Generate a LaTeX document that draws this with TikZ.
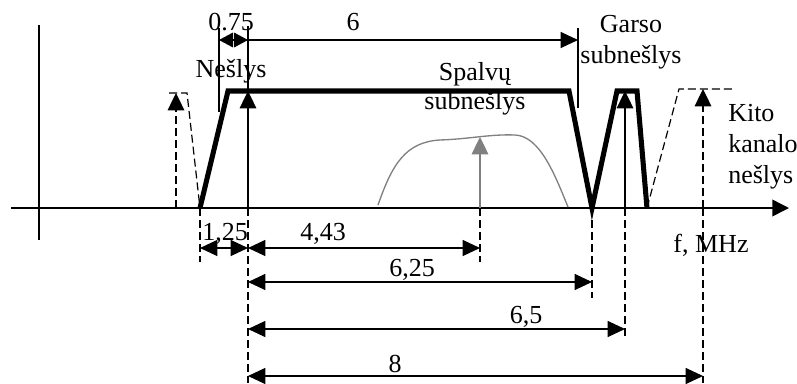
\documentclass[tikz,border=0pt]{standalone}
\usepackage{fontspec}
\setmainfont{Liberation Serif}
\usetikzlibrary{arrows.meta}

\begin{document}
\begin{tikzpicture}[x=0.75pt,y=0.75pt,yscale=-1,xscale=1,
  lbl/.style={font=\fontsize{19.5}{23}\selectfont, inner sep=0pt, anchor=base},
  axisline/.style={line width=1.1pt},
  dimline/.style={line width=0.9pt, {Triangle[length=13pt,width=12pt]}-{Triangle[length=13pt,width=12pt]}},
  dimshort/.style={line width=0.9pt, {Triangle[length=10.5pt,width=11pt]}-{Triangle[length=10.5pt,width=11pt]}},
  dimright/.style={line width=0.9pt, -{Triangle[length=13pt,width=12pt]}},
  extline/.style={line width=0.9pt, dash pattern={on 6pt off 3pt}},
  band/.style={line width=3.8pt, line join=miter},
  nextband/.style={line width=0.9pt, dash pattern={on 6pt off 3pt}},
  carrier/.style={line width=0.9pt, -{Triangle[length=13pt,width=12.5pt]}},
  chroma/.style={line width=1pt, color=gray}
]
\useasboundingbox (0,0) rectangle (797,383);

% frequencies on the axis
\coordinate (fa) at (200,208);
\coordinate (fv) at (248,208);
\coordinate (fc) at (480,208);
\coordinate (fe) at (592,208);
\coordinate (fs) at (625,208);
\coordinate (fk) at (703,208);

%Axes
\draw [axisline, -{Triangle[length=12.5pt,width=12.5pt]}] (11,208) -- (789,208) ;
\draw [axisline] (39,25) -- (39,240) ;

%Adjacent channel (left)
\draw [nextband] (169,93) -- (187,93) -- (fa) ;
\draw [nextband, -{Triangle[length=13pt,width=12.5pt]}] (176,208) -- (176,93) ;

%Channel band
\draw [band] (fa) -- (228,91) -- (569,91) -- (fe) -- (617,91) -- (637,91) -- (647,208) ;

%Carriers
\draw [carrier] (fv) -- (248,91) ;
\draw [carrier] (fs) -- (625,91) ;
\draw [carrier, color=gray] (fc) -- (480,137) ;

%Chroma spectrum
\draw [chroma] (378,205) .. controls (392,165) and (405,142) .. (440,140) .. controls (470,139) and (490,134) .. (515,135) .. controls (540,136) and (555,175) .. (568,207) ;

%Adjacent channel (right)
\draw [nextband] (647,208) -- (679,89) -- (732,89) ;
\draw [nextband, -{Triangle[length=13pt,width=12.5pt]}] (fk) -- (703,89) ;

%Upper dimensions
\draw [line width=0.9pt] (219,28) -- (219,112) ;
\draw [line width=0.9pt] (248,91) -- (248,26) ;
\draw [line width=0.9pt] (578,28) -- (578,108) ;
\draw [dimshort] (219,40) -- (248,40) ;
\draw [dimright] (248,40) -- (578,40) ;

%Lower extension lines
\draw [extline] (fa) -- (200,262) ;
\draw [extline] (fv) -- (248,383) ;
\draw [extline] (fc) -- (480,262) ;
\draw [extline] (fe) -- (592,298) ;
\draw [extline] (fs) -- (625,338) ;
\draw [extline] (fk) -- (703,383) ;

%Lower dimensions
\draw [dimline] (200,248) -- (248,248) ;
\draw [dimline] (248,248) -- (480,248) ;
\draw [dimline] (248,282) -- (592,282) ;
\draw [dimline] (248,329) -- (625,329) ;
\draw [dimline] (248,376) -- (703,376) ;

% Text Node
\node [lbl] (l075) at (231,30) {0.75};
\node [lbl] (l6) at (353,30) {6};
\node [lbl] (lnes) at (231,77) {Nešlys};
\node [lbl] (lspal) at (475,80) {Spalvų};
\node [lbl] (lsub) at (475,109) {subnešlys};
\node [lbl] (lgar) at (631,32) {Garso};
\node [lbl] (lgsub) at (631,63) {subnešlys};
\node [lbl, anchor=base west] (lkito) at (728,121) {Kito};
\node [lbl, anchor=base west] (lkan) at (728,152) {kanalo};
\node [lbl, anchor=base west] (lkn) at (728,183) {nešlys};
\node [lbl] (lf) at (711,252) {f, MHz};
\node [lbl] (l125) at (225,240) {1,25};
\node [lbl] (l443) at (323,240) {4,43};
\node [lbl] (l625) at (412,276) {6,25};
\node [lbl] (l65) at (526,323) {6,5};
\node [lbl] (l8) at (395,372) {8};

\end{tikzpicture}
\end{document}
